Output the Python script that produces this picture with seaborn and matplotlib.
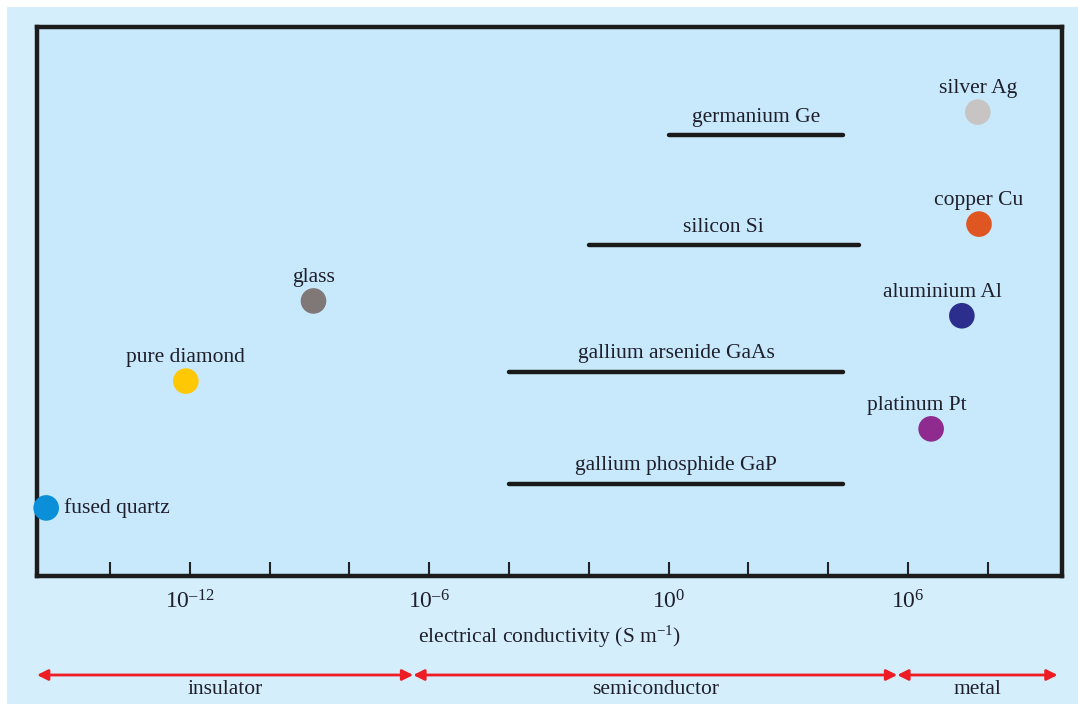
import matplotlib
matplotlib.use("Agg")
import matplotlib.pyplot as plt
import matplotlib.transforms as mtransforms
from matplotlib.patches import Rectangle
from matplotlib.ticker import NullLocator
import numpy as np
import pandas as pd
import seaborn as sns

# =========================
# DATA
# =========================
# point materials: log10 conductivity (S/m) and row height (0-100)
point_names = ['fused quartz', 'pure diamond', 'glass', 'silver Ag',
               'copper Cu', 'aluminium Al', 'platinum Pt']
point_log_sigma = [-15.6, -12.1, -8.9, 7.75, 7.78, 7.35, 6.58]
point_rows = [12.4, 35.5, 50.1, 84.5, 64.1, 47.4, 26.8]
point_colors = ['#0a8fd8', '#ffc805', '#7f7877', '#c9c4c4',
                '#df5622', '#2b2e8c', '#8f2b8e']

# range materials: log10 conductivity span
range_names = ['germanium Ge', 'silicon Si', 'gallium arsenide GaAs',
               'gallium phosphide GaP']
range_low = [0.0, -2.0, -4.0, -4.0]
range_high = [4.37, 4.77, 4.37, 4.37]
range_rows = [80.3, 60.3, 37.2, 16.8]

tick_exponents = [-14, -12, -10, -8, -6, -4, -2, 0, 2, 4, 6, 8]
labelled_exponents = [-12, -6, 0, 6]

# conductivity classes (boundaries in log10 S/m)
class_names = ['insulator', 'semiconductor', 'metal']
class_bounds = [-15.83, -6.4, 5.73, 9.75]

# =========================
# STYLE
# =========================
sns.set_theme(style='white')
plt.rcParams['font.family'] = ['Liberation Serif', 'DejaVu Serif']
plt.rcParams['mathtext.fontset'] = 'custom'
plt.rcParams['mathtext.rm'] = 'Liberation Serif'
plt.rcParams['mathtext.it'] = 'Liberation Serif:italic'

TEXT = '#1f1f2c'
FS = 15.5

fig = plt.figure(figsize=(10.78, 7.04), dpi=100)
fig.patch.set_facecolor('white')
fig.patches.append(Rectangle((7 / 1078, 0), 1 - 7 / 1078, 1 - 7 / 704,
                             transform=fig.transFigure, facecolor='#d5eefb',
                             edgecolor='none', zorder=-10))

ax = fig.add_axes([37 / 1078, 1 - 576 / 704, (1062 - 37) / 1078, (576 - 27) / 704])
ax.set_facecolor('#c8e9fb')

# =========================
# MARKS
# =========================
pts = pd.DataFrame({'name': point_names,
                    'sigma': np.power(10.0, point_log_sigma),
                    'row': point_rows})
sns.scatterplot(data=pts, x='sigma', y='row', hue='name',
                palette=dict(zip(point_names, point_colors)),
                s=340, edgecolor='none', legend=False, ax=ax,
                zorder=5, clip_on=False)

rng = pd.DataFrame({
    'name': range_names * 2,
    'sigma': np.power(10.0, range_low + range_high),
    'row': range_rows * 2,
})
sns.lineplot(data=rng, x='sigma', y='row', units='name', estimator=None,
             color='#1a1a1a', lw=3.2, ax=ax, zorder=2)

ax.set_xscale('log')
ax.set_xlim(10 ** -15.83, 10 ** 9.86)
ax.set_ylim(0, 100)

# labels
label_dx = {'aluminium Al': -14, 'platinum Pt': -10}
for name, lx, row in zip(point_names, point_log_sigma, point_rows):
    if name == 'fused quartz':
        ax.annotate(name, (10 ** lx, row), xytext=(13, 0), textcoords='offset points',
                    ha='left', va='center', fontsize=FS, color=TEXT)
    else:
        ax.annotate(name, (10 ** lx, row), xytext=(label_dx.get(name, 0), 10),
                    textcoords='offset points', ha='center', va='bottom',
                    fontsize=FS, color=TEXT)

for name, lo, hi, row in zip(range_names, range_low, range_high, range_rows):
    mid = 10 ** ((lo + hi) / 2)
    ax.annotate(name, (mid, row), xytext=(0, 6), textcoords='offset points',
                ha='center', va='bottom', fontsize=FS, color=TEXT)

# =========================
# AXES
# =========================
ax.xaxis.set_minor_locator(NullLocator())
ax.set_xticks([10.0 ** e for e in tick_exponents])
ax.set_xticklabels([rf'$10^{{{e}}}$'.replace('-', '\u2013') if e in labelled_exponents else ''
                    for e in tick_exponents])
ax.tick_params(axis='x', direction='in', length=10, width=1.5, color='#222222',
               pad=10, labelsize=17, labelcolor=TEXT, bottom=True)
ax.set_yticks([])
ax.set_xlabel('electrical conductivity (S m$^{\\mathrm{-1}}$)', fontsize=FS,
              color=TEXT, labelpad=8)
ax.set_ylabel('')
for sp in ax.spines.values():
    sp.set_visible(True)
    sp.set_color('#1c1c1c')
    sp.set_linewidth(3.2)

# conductivity class arrows below the axis
trans = mtransforms.blended_transform_factory(ax.transData, fig.transFigure)
arrow_y = 1 - 675 / 704
text_y = 1 - 690 / 704
for name, a, b in zip(class_names, class_bounds[:-1], class_bounds[1:]):
    ax.annotate('', xy=(10 ** a, arrow_y), xytext=(10 ** b, arrow_y),
                xycoords=trans, textcoords=trans, annotation_clip=False,
                arrowprops=dict(arrowstyle='<|-|>', color='#ee1c24', lw=2,
                                mutation_scale=16, shrinkA=0, shrinkB=0))
    ax.text(10 ** ((a + b) / 2), text_y, name, transform=trans, ha='center',
            va='center', fontsize=FS, color=TEXT)

fig.savefig('out.png', dpi=100, facecolor=fig.get_facecolor())
plt.close(fig)
